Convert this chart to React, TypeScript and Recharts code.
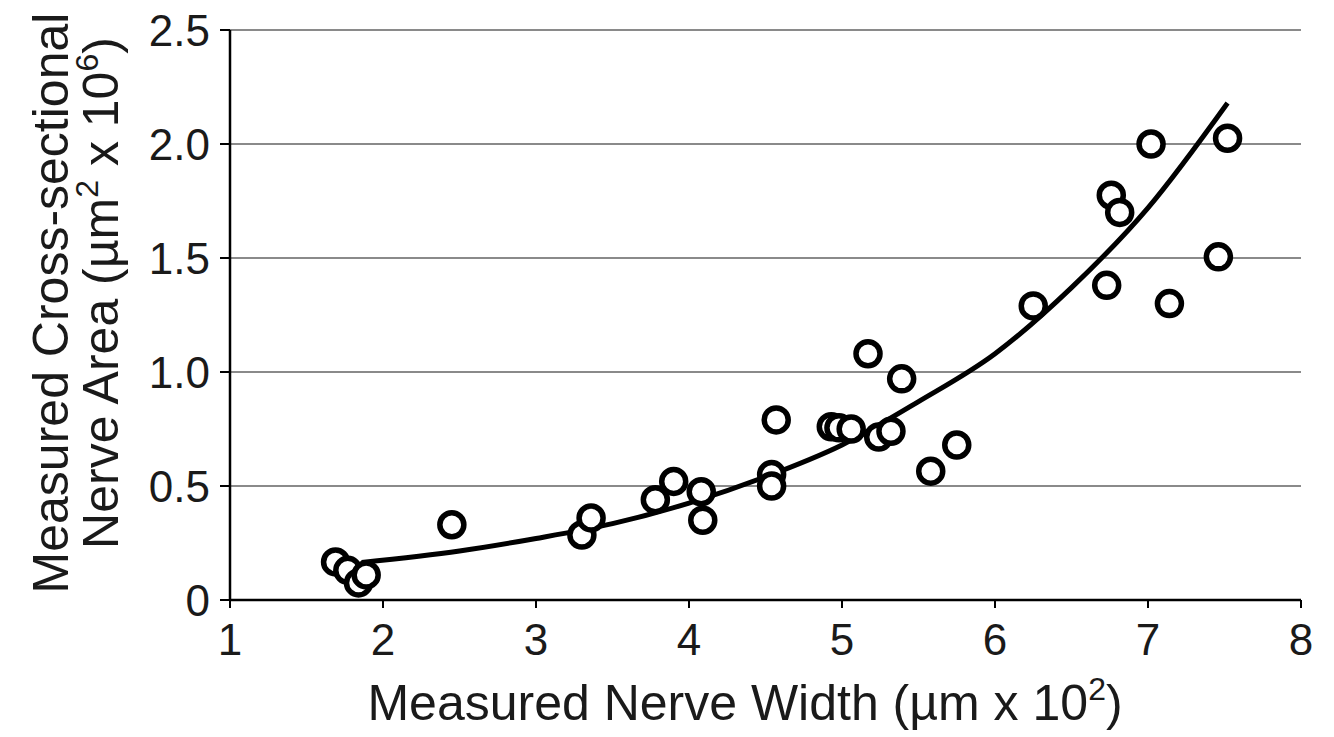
import React from 'react';
import { ComposedChart, Scatter, Line, XAxis, YAxis, CartesianGrid, Label } from 'recharts';

const widthVals = [1.69, 1.77, 1.84, 1.89, 2.45, 3.3, 3.36, 3.78, 3.9, 4.08, 4.09, 4.54, 4.54, 4.57, 4.93, 4.98, 5.06, 5.17, 5.24, 5.32, 5.39, 5.58, 5.75, 6.25, 6.73, 6.76, 6.815, 7.02, 7.14, 7.46, 7.52];
const areaVals = [0.167, 0.13, 0.075, 0.11, 0.33, 0.285, 0.36, 0.44, 0.52, 0.475, 0.35, 0.55, 0.5, 0.79, 0.76, 0.755, 0.75, 1.08, 0.715, 0.74, 0.97, 0.565, 0.68, 1.29, 1.38, 1.775, 1.7, 2.0, 1.3, 1.505, 2.025];

const curveX = [1.86, 2.5, 3.0, 3.5, 4.0, 4.5, 5.0, 5.5, 6.0, 6.5, 7.0, 7.52];
const curveY = [0.165, 0.215, 0.27, 0.335, 0.425, 0.54, 0.68, 0.87, 1.08, 1.37, 1.72, 2.18];

const xTicks = [1, 2, 3, 4, 5, 6, 7, 8];
const yTicks = [0, 0.5, 1.0, 1.5, 2.0, 2.5];

const points = widthVals.map((x, i) => ({ x, y: areaVals[i] }));
const curve = curveX.map((x, i) => ({ x, y: curveY[i] }));

const FONT = '"Liberation Sans", Arial, Helvetica, sans-serif';
const TXT = '#1a1a1a';

const Ring = (props: any) => {
  const { cx, cy } = props;
  if (cx == null || cy == null) return null;
  return <circle cx={cx} cy={cy} r={12} fill="#fff" stroke="#000" strokeWidth={5.5} />;
};

const YLabel = () => (
  <g fontFamily={FONT} fontSize={50} fill={TXT}>
    <text x={68} y={303} textAnchor="middle" transform="rotate(-90 68 303)">Measured Cross-sectional</text>
    <text x={118} y={293} textAnchor="middle" transform="rotate(-90 118 293)">
      Nerve Area (µm
      <tspan dy={-20} fontSize={32}>2</tspan>
      <tspan dy={20}> x 10</tspan>
      <tspan dy={-20} fontSize={32}>6</tspan>
      <tspan dy={20}>)</tspan>
    </text>
  </g>
);

const XLabel = () => (
  <text x={745} y={720} textAnchor="middle" fontFamily={FONT} fontSize={50} fill={TXT}>
    Measured Nerve Width (µm x 10
    <tspan dy={-20} fontSize={32}>2</tspan>
    <tspan dy={20}>)</tspan>
  </text>
);

export default function App() {
  return (
    <div style={{ position: 'absolute', left: 0, top: 0, width: 1334, height: 737, background: '#fff' }}>
      <ComposedChart width={1334} height={737} margin={{ top: 30, right: 33, bottom: 0, left: 0 }}>
        <CartesianGrid horizontal vertical={false} stroke="#8a8a8a" strokeWidth={2} />
        <XAxis
          type="number"
          dataKey="x"
          domain={[1, 8]}
          ticks={xTicks}
          allowDataOverflow
          height={137}
          stroke="#000"
          axisLine={{ stroke: '#000', strokeWidth: 2.5 }}
          tickLine={{ stroke: '#000', strokeWidth: 2 }}
          tickSize={8}
          tickMargin={16}
          tick={{ fontSize: 44, fill: TXT, fontFamily: FONT }}
        >
          <Label content={<XLabel />} />
        </XAxis>
        <YAxis
          type="number"
          dataKey="y"
          domain={[0, 2.5]}
          ticks={yTicks}
          allowDataOverflow
          width={230}
          axisLine={{ stroke: '#000', strokeWidth: 2.5 }}
          tickLine={{ stroke: '#000', strokeWidth: 2 }}
          tickSize={10}
          tickMargin={10}
          tickFormatter={(v: number) => (v === 0 ? '0' : v.toFixed(1))}
          tick={{ fontSize: 44, fill: TXT, fontFamily: FONT }}
        >
          <Label content={<YLabel />} />
        </YAxis>
        <Line
          data={curve}
          dataKey="y"
          type="monotone"
          stroke="#000"
          strokeWidth={5}
          dot={false}
          activeDot={false}
          isAnimationActive={false}
        />
        <Scatter data={points} dataKey="y" shape={<Ring />} isAnimationActive={false} />
      </ComposedChart>
    </div>
  );
}
